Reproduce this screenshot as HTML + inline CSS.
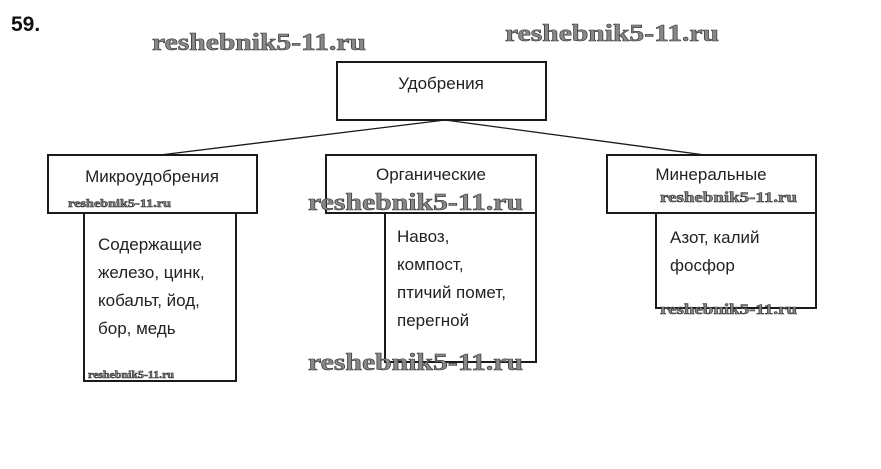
<!DOCTYPE html>
<html><head><meta charset="utf-8"><style>
body{margin:0;background:#fff;}
svg{display:block}
.t{font-family:"Liberation Sans","DejaVu Sans",sans-serif;font-size:17px;fill:#222}
.w{font-family:"Liberation Serif",serif;font-weight:bold;fill:#888;stroke:#333;stroke-width:0.6}
</style></head><body>
<svg width="881" height="469" viewBox="0 0 881 469" xmlns="http://www.w3.org/2000/svg">
<rect width="881" height="469" fill="#fff"/>
<text x="11" y="31" style="font-family:'Liberation Sans',sans-serif;font-size:21px;font-weight:bold;fill:#111">59.</text>
<g fill="none" stroke="#1a1a1a" stroke-width="2">
<rect x="337" y="62" width="209" height="58"/>
<line x1="445" y1="120" x2="160" y2="155" stroke-width="1.3"/>
<line x1="445" y1="120" x2="705" y2="155" stroke-width="1.3"/>
<rect x="48" y="155" width="209" height="58"/>
<rect x="84" y="213" width="152" height="168"/>
<rect x="326" y="155" width="210" height="58"/>
<rect x="385" y="213" width="151" height="149"/>
<rect x="607" y="155" width="209" height="58"/>
<rect x="656" y="213" width="160" height="95"/>
</g>
<text class="t" x="441" y="89" text-anchor="middle">Удобрения</text>
<text class="t" x="152" y="182" text-anchor="middle">Микроудобрения</text>
<text class="t" x="431" y="180" text-anchor="middle">Органические</text>
<text class="t" x="711" y="180" text-anchor="middle">Минеральные</text>
<text class="t" x="98" y="250">Содержащие</text>
<text class="t" x="98" y="278">железо, цинк,</text>
<text class="t" x="98" y="306">кобальт, йод,</text>
<text class="t" x="98" y="334">бор, медь</text>
<text class="t" x="397" y="242">Навоз,</text>
<text class="t" x="397" y="270">компост,</text>
<text class="t" x="397" y="298">птичий помет,</text>
<text class="t" x="397" y="326">перегной</text>
<text class="t" x="670" y="243">Азот, калий</text>
<text class="t" x="670" y="271">фосфор</text>
<text class="w" x="152" y="50" font-size="24" textLength="214" lengthAdjust="spacingAndGlyphs">reshebnik5-11.ru</text>
<text class="w" x="505" y="41" font-size="24" textLength="214" lengthAdjust="spacingAndGlyphs">reshebnik5-11.ru</text>
<text class="w" x="308" y="210" font-size="24" textLength="215" lengthAdjust="spacingAndGlyphs">reshebnik5-11.ru</text>
<text class="w" x="308" y="370" font-size="24" textLength="215" lengthAdjust="spacingAndGlyphs">reshebnik5-11.ru</text>
<text class="w" x="68" y="207" font-size="12" textLength="103" lengthAdjust="spacingAndGlyphs">reshebnik5-11.ru</text>
<text class="w" x="88" y="378" font-size="11" textLength="86" lengthAdjust="spacingAndGlyphs">reshebnik5-11.ru</text>
<text class="w" x="660" y="202" font-size="15" textLength="137" lengthAdjust="spacingAndGlyphs">reshebnik5-11.ru</text>
<text class="w" x="660" y="314" font-size="15" textLength="137" lengthAdjust="spacingAndGlyphs">reshebnik5-11.ru</text>
</svg>
</body></html>
